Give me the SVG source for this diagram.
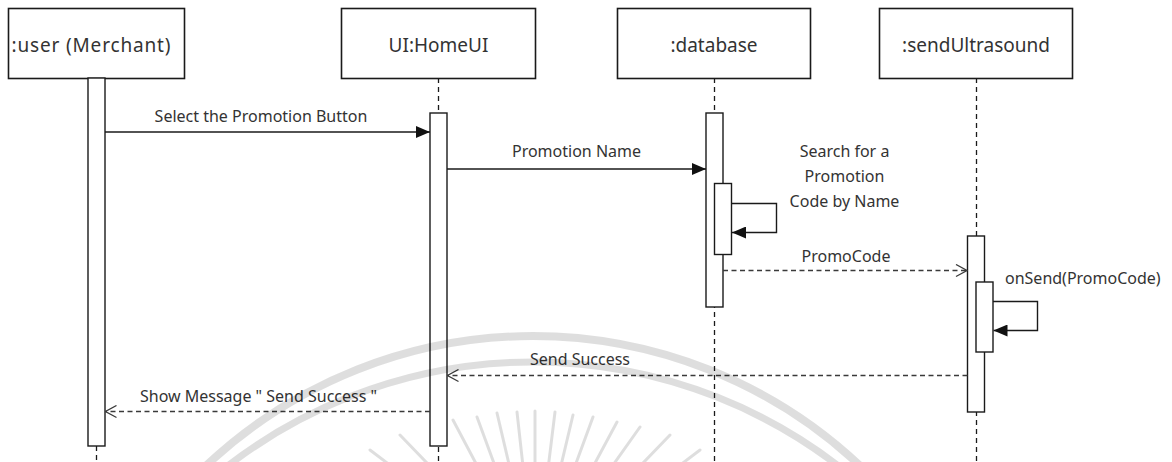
<svg xmlns="http://www.w3.org/2000/svg" width="1172" height="462" viewBox="0 0 1172 462">
  <style>
    .head { fill: #fff; stroke: #1a1a1a; stroke-width: 1.6; }
    .act { fill: #fff; stroke: #1a1a1a; stroke-width: 1.4; }
    .life { stroke: #1a1a1a; stroke-width: 1.3; stroke-dasharray: 5 4; fill: none; }
    .call { stroke: #1a1a1a; stroke-width: 1.4; fill: none; }
    .reply { stroke: #3a3a3a; stroke-width: 1.3; stroke-dasharray: 5 3.5; fill: none; }
    .title { font-family: "Noto Sans", "Open Sans", sans-serif; font-size: 19px; fill: #333; text-anchor: middle; }
    .label { font-family: "Noto Sans", "Open Sans", sans-serif; font-size: 16px; fill: #333; text-anchor: middle; }
    .wm { fill: none; stroke: #000; stroke-opacity: 0.13; }
  </style>
  <defs>
    <marker id="solidHead" markerUnits="userSpaceOnUse" viewBox="0 0 14 12" refX="14" refY="6" markerWidth="14" markerHeight="12" orient="auto">
      <path d="M0,0 L14,6 L0,12 Z" fill="#111"/>
    </marker>
    <marker id="openHead" markerUnits="userSpaceOnUse" viewBox="-1 -1 13 14" refX="11" refY="6" markerWidth="13" markerHeight="14" orient="auto">
      <path d="M0,0 L11,6 L0,12" fill="none" stroke="#3a3a3a" stroke-width="1.3"/>
    </marker>
  </defs>

  <rect width="1172" height="462" fill="#fff"/>

  <!-- lifelines (dashed) -->
  <g id="lifelines">
    <line class="life" x1="96.5" y1="446" x2="96.5" y2="462"/>
    <line class="life" x1="438.5" y1="78" x2="438.5" y2="462"/>
    <line class="life" x1="714.5" y1="78" x2="714.5" y2="462"/>
    <line class="life" x1="976.5" y1="78" x2="976.5" y2="462"/>
  </g>

  <g id="user">
    <rect class="head" x="8.5" y="8.5" width="176" height="70"/>
    <text class="title" x="91" y="52" textLength="159" lengthAdjust="spacing">:user (Merchant)</text>
    <rect class="act" x="88" y="78" width="17" height="368"/>
  </g>

  <g id="homeUI">
    <rect class="head" x="341.5" y="8.5" width="194" height="70"/>
    <text class="title" x="438.5" y="52">UI:HomeUI</text>
    <rect class="act" x="430" y="113" width="17" height="333"/>
  </g>

  <g id="database">
    <rect class="head" x="617.5" y="8.5" width="193" height="70"/>
    <text class="title" x="714" y="52">:database</text>
    <rect class="act" x="706" y="113" width="17" height="194"/>
    <rect class="act" x="714.5" y="183.5" width="17" height="71"/>
  </g>

  <g id="sendUltrasound">
    <rect class="head" x="879.5" y="8.5" width="193" height="70"/>
    <text class="title" x="976" y="52">:sendUltrasound</text>
    <rect class="act" x="967.5" y="236" width="17" height="176"/>
    <rect class="act" x="976" y="282" width="17" height="70"/>
  </g>

  <!-- messages -->
  <g id="connectors">
    <line class="call" x1="105" y1="132" x2="430" y2="132" marker-end="url(#solidHead)"/>
    <line class="call" x1="447" y1="169" x2="706" y2="169" marker-end="url(#solidHead)"/>
    <path class="call" d="M731.5,203.5 H776.5 V232.5 H732" marker-end="url(#solidHead)"/>
    <line class="reply" x1="723" y1="270.5" x2="967" y2="270.5" marker-end="url(#openHead)"/>
    <path class="call" d="M993,301.5 H1037.5 V330.5 H993.5" marker-end="url(#solidHead)"/>
    <line class="reply" x1="967.5" y1="375.5" x2="447.5" y2="375.5" marker-end="url(#openHead)"/>
    <line class="reply" x1="430" y1="411.5" x2="105.5" y2="411.5" marker-end="url(#openHead)"/>
  </g>

  <g id="labels">
    <text class="label" x="261" y="122">Select the Promotion Button</text>
    <text class="label" x="576.5" y="157">Promotion Name</text>
    <text class="label" x="844.5" y="157">Search for a</text>
    <text class="label" x="844.5" y="182">Promotion</text>
    <text class="label" x="844.5" y="207">Code by Name</text>
    <text class="label" x="846" y="262">PromoCode</text>
    <text class="label" x="1005" y="284" style="text-anchor:start">onSend(PromoCode)</text>
    <text class="label" x="580" y="365">Send Success</text>
    <text class="label" x="258.5" y="402">Show Message " Send Success "</text>
  </g>

  <!-- faint emblem in the background -->
  <g id="emblem">
    <circle class="wm" cx="533" cy="813" r="477" stroke-width="8"/>
    <circle class="wm" cx="533" cy="862" r="500" stroke-width="7"/>
    <g class="wm" stroke-width="3" stroke-linecap="round">
      <line x1="370" y1="450" x2="535" y2="575"/>
      <line x1="400" y1="435" x2="535" y2="575"/>
      <line x1="453" y1="420" x2="535" y2="575"/>
      <line x1="477" y1="417" x2="535" y2="575"/>
      <line x1="497" y1="413" x2="535" y2="575"/>
      <line x1="517" y1="412" x2="535" y2="575"/>
      <line x1="535" y1="411" x2="535" y2="575"/>
      <line x1="555" y1="412" x2="535" y2="575"/>
      <line x1="573" y1="415" x2="535" y2="575"/>
      <line x1="593" y1="417" x2="535" y2="575"/>
      <line x1="617" y1="422" x2="535" y2="575"/>
      <line x1="640" y1="427" x2="535" y2="575"/>
      <line x1="670" y1="435" x2="535" y2="575"/>
      <line x1="700" y1="450" x2="535" y2="575"/>
    </g>
  </g>
</svg>
